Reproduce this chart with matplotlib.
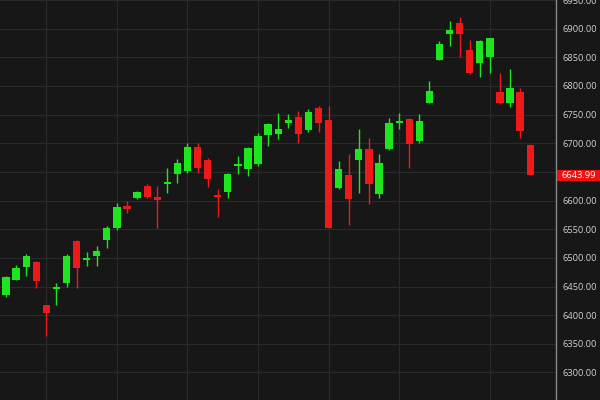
import numpy as np
import matplotlib.pyplot as plt
from matplotlib.patches import Rectangle
from matplotlib.transforms import blended_transform_factory

# daily OHLC
opens = [6436, 6462, 6484, 6492, 6417, 6446, 6457, 6530, 6497, 6504,
         6532, 6552, 6590, 6604, 6625, 6606, 6629, 6646, 6651, 6693,
         6671, 6610, 6615, 6660, 6655, 6663, 6714, 6716, 6735, 6746,
         6723, 6761, 6740, 6622, 6645, 6670, 6690, 6612, 6690, 6735,
         6742, 6704, 6770, 6845, 6890, 6910, 6862, 6840, 6851, 6789,
         6770, 6789, 6697]
highs = [6469, 6488, 6507, 6494, 6418, 6457, 6506, 6532, 6510, 6520,
         6556, 6596, 6599, 6617, 6629, 6625, 6657, 6672, 6700, 6700,
         6674, 6620, 6648, 6678, 6694, 6718, 6735, 6752, 6751, 6756,
         6759, 6765, 6765, 6669, 6682, 6725, 6709, 6681, 6744, 6752,
         6744, 6751, 6808, 6878, 6913, 6921, 6881, 6881, 6883, 6822,
         6829, 6796, 6699]
lows = [6431, 6461, 6468, 6448, 6363, 6417, 6449, 6448, 6485, 6485,
        6518, 6549, 6578, 6603, 6604, 6552, 6614, 6631, 6648, 6648,
        6624, 6571, 6604, 6646, 6643, 6660, 6695, 6707, 6726, 6700,
        6719, 6719, 6552, 6620, 6557, 6613, 6594, 6605, 6688, 6725,
        6657, 6701, 6770, 6845, 6870, 6851, 6820, 6815, 6822, 6768,
        6763, 6709, 6643.99]
closes = [6467, 6483, 6504, 6460, 6403, 6450, 6504, 6483, 6500, 6512,
          6552, 6589, 6585, 6615, 6606, 6601, 6633, 6665, 6694, 6656,
          6638, 6607, 6646, 6664, 6692, 6713, 6733, 6725, 6740, 6716,
          6754, 6735, 6552, 6655, 6603, 6690, 6629, 6665, 6735, 6738,
          6698, 6739, 6792, 6874, 6898, 6890, 6822, 6879, 6883, 6770,
          6796, 6721, 6643.99]
grid_days = [4, 11, 18, 25, 32, 39, 48]
price_ticks = np.arange(6300, 6951, 50)
last_price = 6643.99

bg = "#171717"
green = "#1ee61e"
red = "#ee1a1a"

o = np.array(opens)
h = np.array(highs)
l = np.array(lows)
c = np.array(closes)
x = np.arange(len(o))
up = c >= o
colors = np.where(up, green, red)

fig = plt.figure(figsize=(6, 4), dpi=100)
fig.patch.set_facecolor(bg)
ax = fig.add_axes([0, 0, 556 / 600, 1])
ax.set_facecolor(bg)

# grid
for p in price_ticks:
    ax.axhline(p, color="#2a2a2a", linewidth=0.8, zorder=0)
for d in grid_days:
    ax.axvline(d, color="#2a2a2a", linewidth=0.8, zorder=0)

# candles
ax.vlines(x, l, h, colors=colors, linewidth=1, zorder=2)
body = np.maximum(np.abs(c - o), 2.0)
ax.bar(x, body, bottom=np.minimum(o, c), width=0.72, color=colors,
       linewidth=0, zorder=3)

ax.set_xlim(-0.6, 54.56)
ax.set_ylim(6252, 6947.5)

# the 6650 label sits under the last-price box, so leave it blank
ax.yaxis.tick_right()
ax.set_yticks(price_ticks)
ax.set_yticklabels(["" if abs(p - last_price) < 15 else f"{p:.2f}" for p in price_ticks])
ax.tick_params(axis="y", length=0, pad=5, labelsize=6.7, labelcolor="#cfcfcf")
for lab in ax.get_yticklabels():
    lab.set_family("Open Sans")
ax.set_xticks([])
for side in ["top", "left", "bottom"]:
    ax.spines[side].set_visible(False)
ax.spines["right"].set_color("#8a8a8a")
ax.spines["right"].set_linewidth(1)

# last price marker on the axis
trans = blended_transform_factory(fig.transFigure, ax.transData)
box_h = 19.0
fig.patches.append(Rectangle((557 / 600, last_price - box_h / 2), 43 / 600, box_h,
                             transform=trans, facecolor="#ee1111",
                             edgecolor="none", zorder=5))
fig.text(561 / 600, last_price, f"{last_price:.2f}", transform=trans,
         color="white", fontsize=6.7, family="Open Sans",
         va="center", ha="left", zorder=6)

fig.savefig("out.png", dpi=100, facecolor=bg)
